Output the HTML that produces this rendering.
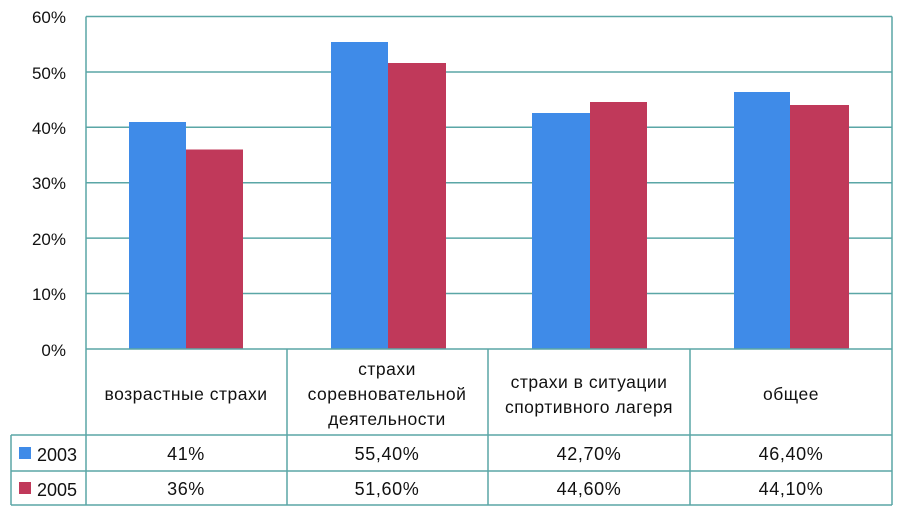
<!DOCTYPE html>
<html><head><meta charset="utf-8"><style>
body{margin:0;background:#fff;}
svg{display:block;}
text{font-family:"Liberation Sans","DejaVu Sans",sans-serif;fill:#111;}
</style></head><body>
<svg width="904" height="514" viewBox="0 0 904 514">
<rect width="904" height="514" fill="#fff"/>
<g stroke="#5aa6a6" stroke-width="1.5" fill="none">
<line x1="86" y1="16.5" x2="892" y2="16.5"/>
<line x1="86" y1="72" x2="892" y2="72"/>
<line x1="86" y1="127.3" x2="892" y2="127.3"/>
<line x1="86" y1="182.7" x2="892" y2="182.7"/>
<line x1="86" y1="238.1" x2="892" y2="238.1"/>
<line x1="86" y1="293.5" x2="892" y2="293.5"/>
<line x1="86" y1="16.5" x2="86" y2="505"/>
</g>
<g font-size="17" text-anchor="end">
<text x="66" y="23">60%</text>
<text x="66" y="79">50%</text>
<text x="66" y="134">40%</text>
<text x="66" y="189">30%</text>
<text x="66" y="245">20%</text>
<text x="66" y="300">10%</text>
<text x="66" y="356">0%</text>
</g>
<g fill="#3f8be8">
<rect x="129" y="122" width="57" height="227"/>
<rect x="331" y="42" width="57" height="307"/>
<rect x="532" y="113" width="58" height="236"/>
<rect x="734" y="92" width="56" height="257"/>
</g>
<g fill="#c0395a">
<rect x="186" y="149.5" width="57" height="199.5"/>
<rect x="388" y="63" width="58" height="286"/>
<rect x="590" y="102" width="57" height="247"/>
<rect x="790" y="105" width="59" height="244"/>
</g>
<g stroke="#5aa6a6" stroke-width="1.5" fill="none">
<line x1="86" y1="349" x2="892" y2="349"/>
<line x1="11" y1="435" x2="892" y2="435"/>
<line x1="11" y1="471" x2="892" y2="471"/>
<line x1="11" y1="505" x2="892" y2="505"/>
<line x1="11" y1="435" x2="11" y2="505"/>
<line x1="287" y1="349" x2="287" y2="505"/>
<line x1="488" y1="349" x2="488" y2="505"/>
<line x1="690" y1="349" x2="690" y2="505"/>
<line x1="892" y1="16.5" x2="892" y2="505"/>
</g>
<g font-size="17.5" text-anchor="middle" letter-spacing="0.5">
<text x="186" y="400">возрастные страхи</text>
<text x="387" y="375">страхи</text>
<text x="387" y="400">соревновательной</text>
<text x="387" y="425">деятельности</text>
<text x="589" y="388">страхи в ситуации</text>
<text x="589" y="413">спортивного лагеря</text>
<text x="791" y="400">общее</text>
</g>
<g font-size="18" text-anchor="middle" letter-spacing="0.6">
<text x="186" y="460">41%</text>
<text x="387" y="460">55,40%</text>
<text x="589" y="460">42,70%</text>
<text x="791" y="460">46,40%</text>
<text x="186" y="495">36%</text>
<text x="387" y="495">51,60%</text>
<text x="589" y="495">44,60%</text>
<text x="791" y="495">44,10%</text>
</g>
<rect x="19" y="447" width="12" height="12" fill="#3f8be8"/>
<rect x="19" y="482" width="12" height="12" fill="#c0395a"/>
<g font-size="18">
<text x="37" y="461">2003</text>
<text x="37" y="496">2005</text>
</g>
</svg>
</body></html>
